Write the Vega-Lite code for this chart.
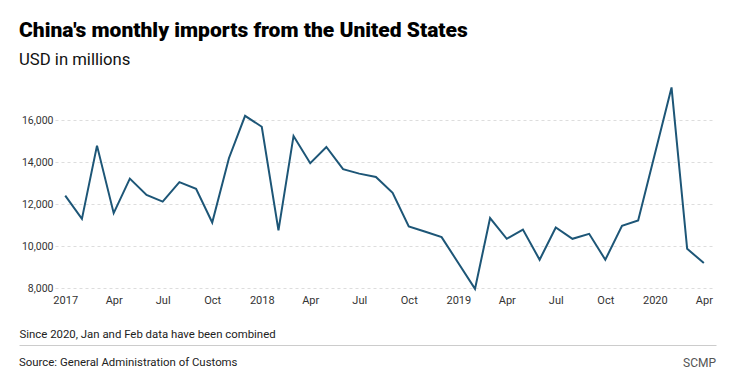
{
  "$schema": "https://vega.github.io/schema/vega-lite/v6.json",
  "padding": {"left": 19, "top": 20, "right": 10, "bottom": 0},
  "background": "#ffffff",
  "title": {
    "text": "China's monthly imports from the United States",
    "subtitle": "USD in millions",
    "anchor": "start",
    "frame": "bounds",
    "font": "Roboto",
    "fontSize": 21,
    "fontWeight": 900,
    "color": "#000000",
    "subtitleFont": "Roboto",
    "subtitleFontSize": 16.7,
    "subtitleFontWeight": 400,
    "subtitleColor": "#111111",
    "subtitlePadding": 11,
    "offset": 9
  },
  "config": {
    "view": {"stroke": null},
    "font": "Roboto"
  },
  "spacing": 23,
  "vconcat": [
    {
      "width": 658,
      "height": 210,
      "data": {
        "values": [
          {"date": "2017-01-01", "value": 12400},
          {"date": "2017-02-01", "value": 11290},
          {"date": "2017-03-01", "value": 14780},
          {"date": "2017-04-01", "value": 11565},
          {"date": "2017-05-01", "value": 13210},
          {"date": "2017-06-01", "value": 12430},
          {"date": "2017-07-01", "value": 12116},
          {"date": "2017-08-01", "value": 13040},
          {"date": "2017-09-01", "value": 12720},
          {"date": "2017-10-01", "value": 11118},
          {"date": "2017-11-01", "value": 14180},
          {"date": "2017-12-01", "value": 16200},
          {"date": "2018-01-01", "value": 15680},
          {"date": "2018-02-01", "value": 10740},
          {"date": "2018-03-01", "value": 15240},
          {"date": "2018-04-01", "value": 13940},
          {"date": "2018-05-01", "value": 14716},
          {"date": "2018-06-01", "value": 13656},
          {"date": "2018-07-01", "value": 13447},
          {"date": "2018-08-01", "value": 13290},
          {"date": "2018-09-01", "value": 12530},
          {"date": "2018-10-01", "value": 10930},
          {"date": "2018-11-01", "value": 10676},
          {"date": "2018-12-01", "value": 10424},
          {"date": "2019-01-01", "value": 9190},
          {"date": "2019-02-01", "value": 7960},
          {"date": "2019-03-01", "value": 11327},
          {"date": "2019-04-01", "value": 10343},
          {"date": "2019-05-01", "value": 10785},
          {"date": "2019-06-01", "value": 9345},
          {"date": "2019-07-01", "value": 10880},
          {"date": "2019-08-01", "value": 10343},
          {"date": "2019-09-01", "value": 10580},
          {"date": "2019-10-01", "value": 9345},
          {"date": "2019-11-01", "value": 10960},
          {"date": "2019-12-01", "value": 11213},
          {"date": "2020-02-01", "value": 17553},
          {"date": "2020-03-01", "value": 9868},
          {"date": "2020-04-01", "value": 9188}
        ]
      },
      "mark": {"type": "line", "color": "#1d5677", "strokeWidth": 2, "clip": false},
      "encoding": {
        "x": {
          "field": "date",
          "type": "temporal",
          "scale": {"domain": ["2016-12-13", "2020-04-18"], "nice": false},
          "axis": {
            "title": null,
            "grid": false,
            "domain": false,
            "ticks": false,
            "tickCount": {"interval": "month", "step": 3},
            "labelExpr": "month(datum.value) == 0 ? timeFormat(datum.value, '%Y') : timeFormat(datum.value, '%b')",
            "labelFontSize": 11,
            "labelColor": "#333333",
            "labelPadding": 6,
            "labelFlush": false,
            "labelOverlap": false
          }
        },
        "y": {
          "field": "value",
          "type": "quantitative",
          "scale": {"domain": [8000, 18000], "nice": false, "zero": false},
          "axis": {
            "title": null,
            "values": [8000, 10000, 12000, 14000, 16000],
            "format": ",d",
            "domain": false,
            "ticks": false,
            "grid": true,
            "gridColor": "#dddddd",
            "gridDash": [3, 3],
            "gridWidth": 1,
            "labelFontSize": 10.5,
            "labelColor": "#333333",
            "labelPadding": 2
          }
        }
      }
    },
    {
      "width": 661,
      "height": 36,
      "data": {
        "values": [
          {"label": "Source: General Administration of Customs", "pos": 0, "side": "left"},
          {"label": "SCMP", "pos": 1, "side": "right"}
        ]
      },
      "layer": [
        {
          "transform": [{"filter": "datum.side == 'left'"}],
          "mark": {"type": "text", "align": "left", "baseline": "middle", "fontSize": 11.4, "color": "#222222"},
          "encoding": {
            "x": {
              "field": "pos",
              "type": "quantitative",
              "scale": {"domain": [0, 1], "range": [-36, 661], "nice": false, "zero": false},
              "axis": {
                "orient": "top",
                "title": "Since 2020, Jan and Feb data have been combined",
                "titleAnchor": "start",
                "titleAlign": "left",
                "titleBaseline": "alphabetic",
                "titleFontSize": 11.4,
                "titleFontWeight": 400,
                "titleColor": "#222222",
                "titlePadding": 8,
                "labels": false,
                "ticks": false,
                "grid": false,
                "domain": true,
                "domainColor": "#cccccc",
                "domainWidth": 1
              }
            },
            "text": {"field": "label"}
          }
        },
        {
          "transform": [{"filter": "datum.side == 'right'"}],
          "mark": {"type": "text", "align": "right", "baseline": "middle", "fontSize": 12, "color": "#555555"},
          "encoding": {
            "x": {"field": "pos", "type": "quantitative"},
            "text": {"field": "label"}
          }
        }
      ]
    }
  ]
}
